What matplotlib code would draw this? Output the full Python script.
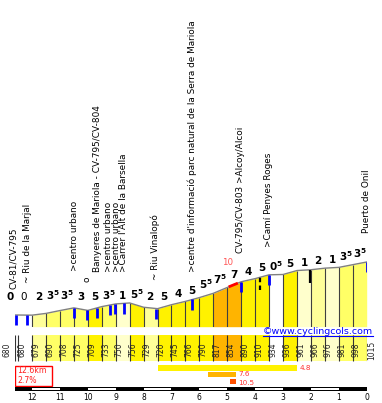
import numpy as np
import matplotlib
matplotlib.use('Agg')
import matplotlib.pyplot as plt
from matplotlib.lines import Line2D

# profile: km to the top and altitude (m) at each point
km = [12.6, 12.0, 11.5, 11.0, 10.5, 10.0, 9.5, 9.0, 8.5, 8.0, 7.5, 7.0, 6.5,
      6.0, 5.5, 5.0, 4.5, 4.0, 3.5, 3.0, 2.5, 2.0, 1.5, 1.0, 0.5, 0.0]
alt = [680, 679, 690, 708, 725, 709, 733, 750, 756, 729, 720, 745, 766,
       790, 817, 854, 890, 910, 934, 936, 961, 966, 976, 981, 998, 1015]
# gradient shown above each segment
grad = [0, 2, 3.5, 3.5, 3, 5, 3.5, 1, 5.5, 2, 5, 4, 5, 5.5, 7.5, 7, 4, 5,
        0.5, 5, 1, 2, 1, 3.5, 3.5]

# points of interest (km, name, altitude where the label starts)
poi_km = [12.67, 12.17, 10.48, 10.04, 9.66, 9.26, 8.97, 8.72, 7.57, 6.24,
          4.52, 3.52, 0.02]
poi_names = ["CV-81/CV-795", "~ Riu de la Marjal", ">centro urbano", "o",
             "Banyeres de Mariola - CV-795/CV-804", ">centro urbano",
             ">centro urbano", ">Carrer l'Alt de la Barsella", "~ Riu Vinalopó",
             ">centre d'informació parc natural de la Serra de Mariola",
             "CV-795/CV-803 >Alcoy/Alcoi", ">Camí Penyes Roges", "Puerto de Onil"]
poi_alt = [844, 882, 958, 889, 952, 952, 952, 952, 901, 952, 1072, 1110, 1198]

# markers on the profile
blue_marks = [12.56, 12.17, 10.48, 10.04, 9.66, 9.22, 9.01, 8.72, 7.54, 6.25,
              4.49, 3.52, 0.0]
black_dashed = [3.81]
black_solid = [2.05]

# steepest bit
steep_km = [4.95, 4.62]
steep_max = 10

# sections summary: start km, end km, average %
sec_start = [7.5, 5.7, 4.9]
sec_end = [2.5, 4.7, 4.7]
sec_grad = [4.8, 7.6, 10.5]

km_ticks = list(range(0, 13))


def grad_color(g):
    g = abs(g)
    if g < 1:
        return 'white'
    if g < 2:
        return '#FFFFCC'
    if g < 3:
        return '#FFFF99'
    if g < 4:
        return '#FFFF66'
    if g < 7:
        return '#FFF200'
    if g < 9:
        return '#FFB400'
    return '#FF5000'


def grad_label(g):
    whole = int(g)
    if g - whole:
        return r'$\mathbf{%d}^{\mathbf{5}}$' % whole
    return r'$\mathbf{%d}$' % whole


km_r = km[::-1]
alt_r = alt[::-1]


def alt_at(k):
    return np.interp(k, km_r, alt_r)


W, H = 382, 403
x0, x1 = 15.3, 366.7
pbot = 326.7
mscale = 0.1582  # px per metre
base = 606

fig = plt.figure(figsize=(W / 100, H / 100), dpi=100)

# ---- profile
ax = fig.add_axes([x0 / W, (H - pbot) / H, (x1 - x0) / W, pbot / H])
ax.set_xlim(12.6, 0)
ax.set_ylim(base, base + pbot / mscale)
ax.axis('off')

for i in range(len(grad)):
    ax.fill_between([km[i], km[i + 1]], [alt[i], alt[i + 1]], base,
                    color=grad_color(grad[i]), lw=0)
ax.vlines(km[1:-1], base, alt[1:-1], color='#404040', lw=0.8)
ax.plot(km, alt, color='#808080', lw=1)

sk = np.linspace(steep_km[0], steep_km[1], 5)
ax.plot(sk, alt_at(sk), color='red', lw=2, solid_capstyle='butt')
ax.text(steep_km[0] + 0.02, alt_at(steep_km[1]) + 128, str(steep_max),
        color='#FF5555', fontsize=6.3, ha='center', va='center')

for k in blue_marks:
    a = alt_at(k)
    ax.vlines(k, max(a - 65, base), a, color='#0000FF', lw=2)
for k in black_dashed:
    a = alt_at(k)
    ax.vlines(k, a - 82, a + 12, color='black', lw=1.6, linestyles=(0, (2, 1.5)))
for k in black_solid:
    a = alt_at(k)
    ax.vlines(k, a - 82, a, color='black', lw=1.6)

# gradient numbers
ax.text(12.78, 762, grad_label(0), ha='center', va='bottom', fontsize=7.5)
for i, g in enumerate(grad):
    mid = (km[i] + km[i + 1]) / 2
    y = max(762, max(alt[i], alt[i + 1]) + 12)
    lab = grad_label(g)
    if i == 0:
        lab = '0'
    ax.text(mid, y, lab, ha='center', va='bottom', fontsize=7.5)

for k, name, a in zip(poi_km, poi_names, poi_alt):
    ax.text(k, a, name, rotation=90, ha='center', va='bottom', fontsize=6.4)

# ---- bottom strip (y in pixel rows)
bx = fig.add_axes([x0 / W, 0, (x1 - x0) / W, 73 / H])
bx.set_xlim(12.6, 0)
bx.set_ylim(403, 330)
bx.axis('off')

for i in range(len(grad)):
    bx.bar((km[i] + km[i + 1]) / 2, 26, width=km[i] - km[i + 1], bottom=335,
           color=grad_color(grad[i]), lw=0)
bx.vlines(km + [12.52], 335, 361, color='#333333', lw=0.8)
for i in range(len(grad)):
    off = 0.24 if i == 0 else 0.13
    bx.text(km[i] - off, 350, str(alt[i]), rotation=90, ha='center',
            va='center', fontsize=5.5, color='#222222')
bx.text(-0.17, 350, str(alt[-1]), rotation=90, ha='center', va='center',
        fontsize=5.5, color='#222222')
bx.text(12.9, 350, str(alt[0]), rotation=90, ha='center', va='center',
        fontsize=5.5, color='#222222')

wm = bx.text(3.72, 331.5, '©www.cyclingcols.com', color='#0000FF',
             fontsize=6.8, ha='left', va='center')

# total summary box
dist = km[0] - km[-1]
avg = (alt[-1] - alt[0]) / (dist * 10)
bx.add_patch(plt.Rectangle((km[0] - 1.33, 366), 1.33, 20, fill=False,
                           edgecolor='red', lw=1))
bx.text(km[0] - 0.06, 366.3, '%.1fkm\n%.1f%%' % (dist, avg), color='#FF2020',
        fontsize=5.6, ha='left', va='top', linespacing=1.05)

rows = [367.8, 374.5, 381.6]
lab_rows = [367.8, 374.0, 382.8]
for s, e, g, r, lr in zip(sec_start, sec_end, sec_grad, rows, lab_rows):
    bx.barh(r, s - e, left=e, height=5.5, color=grad_color(g), lw=0)
    bx.text(e - 0.1, lr, '%.1f' % g, color='#FF3030', fontsize=5.2,
            ha='left', va='center')

# km scale
bx.barh(389, km[0], left=0, height=3.8, color='black', lw=0)
for k in km_ticks[1:12:2]:
    bx.barh(389, 1, left=k, height=1.8, color='white', lw=0)
for k in km_ticks:
    bx.text(k, 397, str(k), ha='center', va='center', fontsize=5.5)

# underline for the site name
fig.canvas.draw()
bb = wm.get_window_extent(fig.canvas.get_renderer())
fig.add_artist(Line2D([bb.x0 / W, bb.x1 / W], [(bb.y0 + 0.5) / H] * 2,
                      color='#0000FF', lw=0.8))

fig.savefig('out.png', dpi=100)
